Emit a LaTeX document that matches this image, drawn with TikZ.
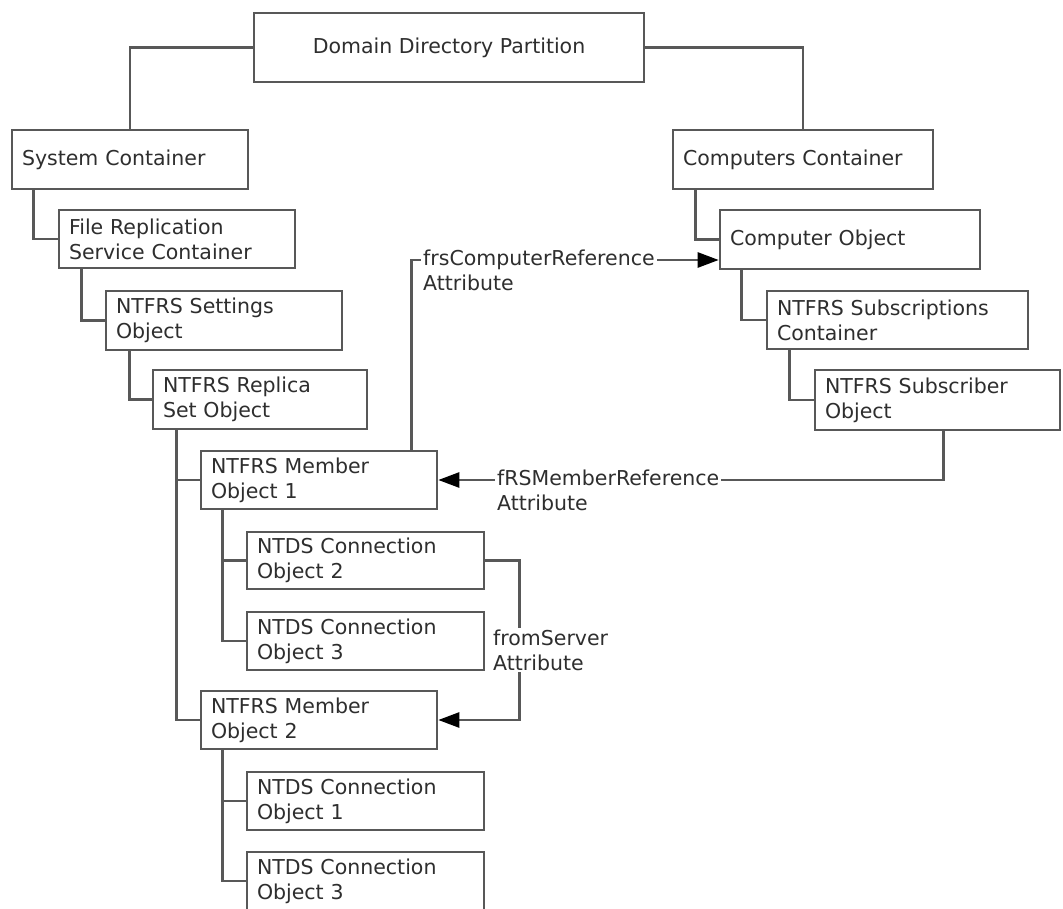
\documentclass[tikz,border=0pt]{standalone}
\usepackage{fontspec}
\setmainfont{DejaVu Sans}
\usetikzlibrary{arrows.meta}
\definecolor{boxline}{HTML}{585858}
\definecolor{ink}{HTML}{2E2E2E}
\begin{document}
\begin{tikzpicture}[x=1pt,y=-1pt,
  font=\fontsize{20.5}{25}\selectfont,
  box/.style={draw=boxline, line width=2.6pt, fill=white, text=ink, align=left, inner xsep=10pt, inner ysep=0pt},
  link/.style={draw=boxline, line width=2.6pt},
  ref/.style={draw=boxline, line width=2.6pt, -{Triangle[length=21pt,width=15pt,color=black]}},
  lbl/.style={fill=white, text=ink, align=left, inner sep=2pt, anchor=north west}
]
\useasboundingbox (0,0) rectangle (1063,909);

\node[box, align=center, minimum width=390pt, minimum height=69pt] (dom) at (449,47.5) {Domain Directory Partition};
\node[box, text width=216pt, minimum height=59pt] (sys) at (130,159.5) {System Container};
\node[box, text width=240pt, minimum height=59pt] (comp) at (803,159.5) {Computers Container};
\node[box, text width=216pt, minimum height=58pt] (frs) at (177,239) {File Replication\\Service Container};
\node[box, text width=240pt, minimum height=59pt] (cobj) at (850,239.5) {Computer Object};
\node[box, text width=216pt, minimum height=59pt] (set) at (224,320.5) {NTFRS Settings\\Object};
\node[box, text width=241pt, minimum height=58pt] (subs) at (897.5,320) {NTFRS Subscriptions\\Container};
\node[box, text width=194pt, minimum height=59pt] (rep) at (260,399.5) {NTFRS Replica\\Set Object};
\node[box, text width=225pt, minimum height=60pt] (subr) at (937.5,400) {NTFRS Subscriber\\Object};
\node[box, text width=216pt, minimum height=58pt] (m1) at (319,480) {NTFRS Member\\Object 1};
\node[box, text width=217pt, minimum height=57pt] (n2) at (365.5,560.5) {NTDS Connection\\Object 2};
\node[box, text width=217pt, minimum height=58pt] (n3) at (365.5,641) {NTDS Connection\\Object 3};
\node[box, text width=216pt, minimum height=58pt] (m2) at (319,720) {NTFRS Member\\Object 2};
\node[box, text width=217pt, minimum height=58pt] (n1) at (365.5,801) {NTDS Connection\\Object 1};
\node[box, text width=217pt, minimum height=58pt] (n3b) at (365.5,881) {NTDS Connection\\Object 3};

% hierarchy
\draw[link] (dom.west) -| (sys.north);
\draw[link] (dom.east) -| (comp.north);
\draw[link] ([xshift=23pt]sys.south west) |- (frs.west);
\draw[link] ([xshift=24pt]comp.south west) |- (cobj.west);
\draw[link] ([xshift=24pt]frs.south west) |- (set.west);
\draw[link] ([xshift=23pt]cobj.south west) |- (subs.west);
\draw[link] ([xshift=25pt]set.south west) |- (rep.west);
\draw[link] ([xshift=24pt]subs.south west) |- (subr.west);
\draw[link] ([xshift=25pt]rep.south west) |- (m1.west);
\draw[link] ([xshift=25pt]rep.south west) |- (m2.west);
\draw[link] ([xshift=23pt]m1.south west) |- (n2.west);
\draw[link] ([xshift=23pt]m1.south west) |- (n3.west);
\draw[link] ([xshift=23pt]m2.south west) |- (n1.west);
\draw[link] ([xshift=23pt]m2.south west) |- (n3b.west);

% references
\draw[ref] ([xshift=212pt]m1.north west) |- ([yshift=-20.5pt]cobj.west);
\node[lbl] (l1) at (421,247.4) {frsComputerReference\\Attribute};
\draw[ref] ([xshift=130pt]subr.south west) |- (m1.east);
\node[lbl] (l2) at (495,467.4) {fRSMemberReference\\Attribute};
\draw[ref] (n2.east) -- ++(34,0) |- (m2.east);
\node[lbl] (l3) at (491,627.4) {fromServer\\Attribute};
\end{tikzpicture}
\end{document}
